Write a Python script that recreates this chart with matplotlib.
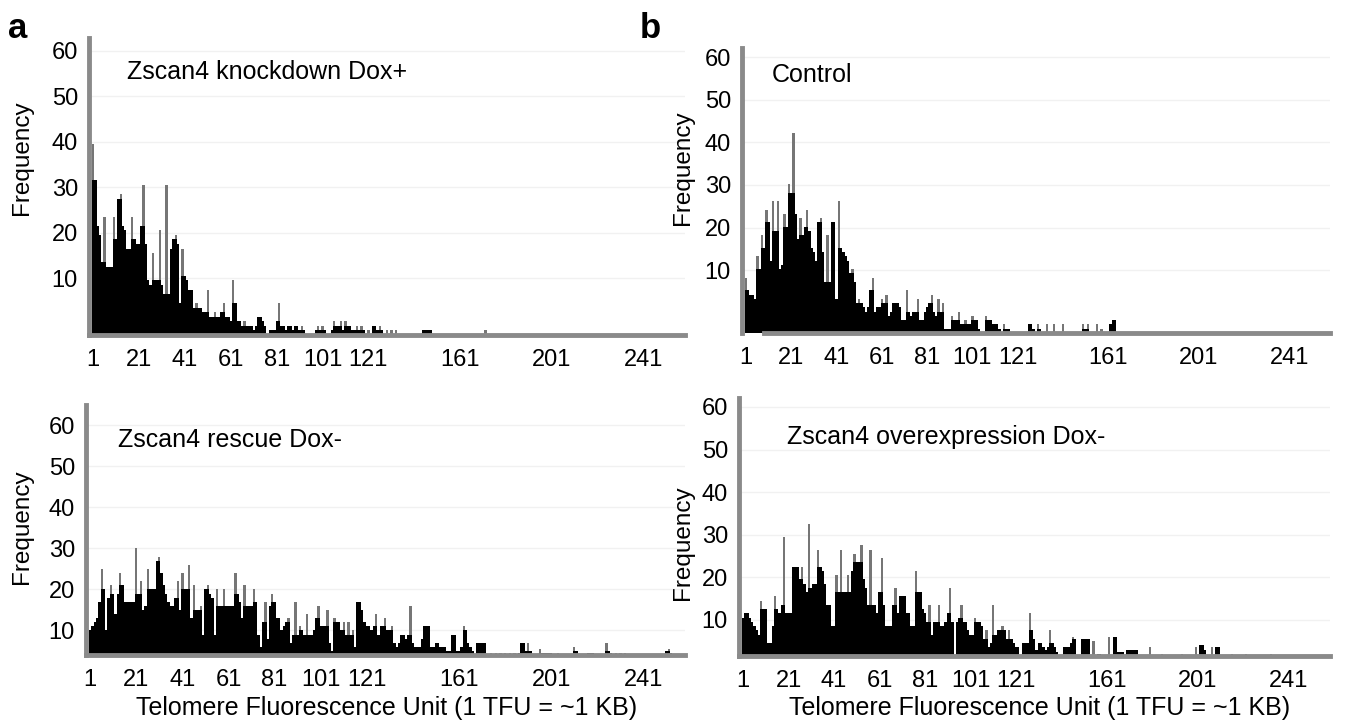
import numpy as np
import matplotlib
matplotlib.use("Agg")
import matplotlib.pyplot as plt

plt.rcParams['font.family'] = ['Liberation Sans', 'DejaVu Sans']

# bins of telomere fluorescence units, heights
N_BINS = 258
xtick_vals = [1, 21, 41, 61, 81, 101, 121, 161, 201, 241]
ytick_labels = [10, 20, 30, 40, 50, 60]

knockdown_main = [
    42, 34, 24, 22, 16, 26, 15, 15, 15, 26, 21, 30, 31, 24, 23, 19, 19, 26, 21, 20,
    20, 24, 33, 20, 12, 11, 18, 12, 12, 23, 11, 9, 33, 9, 19, 21, 22, 20, 7, 19,
    13, 12, 10, 10, 6, 7, 6, 6, 5, 5, 10, 4, 4, 5, 4, 4, 5, 7, 4, 4,
    3, 12, 7, 3, 3, 2, 3, 2, 2, 2, 1, 2, 4, 4, 3, 2, 0, 1, 1, 1,
    3, 7, 2, 2, 1, 2, 2, 1, 2, 2, 1, 2, 1, 0, 0, 0, 0, 1, 2, 1,
    2, 1, 0, 0, 1, 3, 2]
knockdown_tail = {108: 2, 109: 3, 110: 1, 111: 3, 112: 2, 113: 2, 114: 1, 115: 1,
                  116: 2, 117: 1, 118: 2, 119: 1, 121: 1, 123: 2, 124: 2, 125: 1,
                  126: 2, 127: 1, 129: 1, 131: 1, 133: 1, 145: 1, 146: 1, 147: 1,
                  148: 1, 172: 1}

control_main = [
    13, 10, 9, 9, 8, 18, 15, 23, 20, 29, 26, 17, 31, 24, 31, 15, 16, 28, 25, 35,
    33, 47, 28, 22, 27, 23, 25, 29, 24, 20, 19, 17, 26, 27, 19, 12, 23, 12, 26, 26,
    8, 31, 20, 19, 18, 17, 14, 15, 12, 7, 8, 7, 6, 5, 6, 10, 13, 5, 6, 6,
    8, 7, 9, 4, 5, 7, 7, 7, 6, 3, 3, 10, 5, 4, 5, 5, 8, 3, 3, 5,
    6, 7, 9, 5, 4, 8, 5, 7, 1, 1, 1, 4, 3, 3, 5, 2, 2, 3, 2, 2,
    4, 3, 3, 1, 0, 0, 4, 3, 3, 2, 2, 2, 1, 0, 2, 1, 1]
control_tail = {126: 2, 127: 2, 128: 1, 130: 2, 131: 1, 134: 2, 137: 2, 141: 2,
                150: 2, 151: 1, 152: 2, 156: 2, 158: 1, 162: 2, 163: 3, 164: 3}

rescue_main = [
    6, 7, 8, 9, 13, 21, 16, 6, 14, 17, 15, 10, 15, 20, 17, 13, 13, 13, 13, 13,
    26, 15, 18, 11, 12, 21, 16, 16, 16, 23, 24, 20, 17, 15, 13, 12, 12, 14, 18, 11,
    20, 16, 16, 22, 9, 17, 11, 11, 12, 5, 16, 17, 15, 14, 5, 16, 12, 12, 16, 12,
    12, 12, 12, 20, 15, 13, 9, 17, 12, 12, 12, 16, 13, 5, 2, 8, 13, 4, 12, 15,
    13, 9, 9, 6, 7, 8, 9, 3, 5, 13, 5, 7, 6, 5, 10, 5, 5, 6, 9, 12,
    7, 7, 7, 11, 3, 1, 9, 8, 8, 6, 8, 5, 8, 5, 6, 2, 13, 13, 11, 8,
    7, 7, 6, 7, 10, 5, 7, 7, 9, 6, 6, 7, 3, 2, 3, 5, 5, 4, 5, 12,
    3, 2, 2, 2, 4, 7, 7, 7, 2, 2, 3, 3, 2, 2, 2, 1, 1, 5, 5, 1,
    1, 2, 7, 6, 3, 2, 1, 0, 3, 3, 3, 3]
rescue_tail = {175: 0.5, 177: 0.5, 179: 0.5, 181: 0.5, 183: 0.5, 185: 0.5, 187: 0.5,
               188: 3, 189: 3, 190: 1, 191: 3, 192: 1, 196: 1.5, 197: 0.5, 198: 0.5,
               199: 0.5, 200: 0.5, 201: 0.5, 204: 0.5, 211: 2, 212: 1, 217: 0.5,
               218: 0.5, 219: 0.5, 225: 3, 226: 1, 227: 0.5, 229: 0.5, 231: 0.5,
               233: 0.5, 251: 1, 252: 1.5, 253: 0.5}

overexp_main = [
    9, 10, 10, 9, 8, 7, 6, 5, 13, 11, 11, 3, 3, 7, 14, 11, 10, 12, 28, 10,
    10, 10, 21, 21, 21, 18, 21, 17, 15, 31, 16, 17, 17, 25, 21, 20, 17, 12, 12, 7,
    7, 19, 15, 25, 15, 15, 19, 15, 20, 24, 22, 22, 26, 18, 16, 12, 25, 12, 12, 10,
    15, 23, 12, 7, 7, 7, 12, 16, 10, 14, 14, 14, 10, 10, 7, 7, 20, 15, 15, 11,
    10, 8, 12, 5, 8, 8, 12, 7, 7, 8, 10, 16, 8, 0, 8, 9, 12, 8, 8, 6,
    5, 5, 9, 8, 8, 7, 4, 6, 2, 3, 12, 5, 6, 6, 7, 6, 4, 6, 4, 3,
    2, 2, 0, 3, 3, 3, 10, 6, 4, 1.5, 3, 3, 2, 1.5, 2, 6, 3, 2, 1]
overexp_tail = {142: 2, 143: 2, 144: 2, 145: 3, 146: 4.5, 147: 4, 150: 4, 151: 4,
                152: 4, 153: 4, 155: 3.5, 157: 0.5, 158: 0.5, 162: 4.5, 164: 4.5,
                165: 4.5, 166: 1, 167: 1, 168: 1, 170: 1.5, 171: 1.5, 172: 1.5,
                173: 1.5, 174: 1.5, 180: 2, 185: 0.5, 194: 0.5, 200: 2, 202: 2.5,
                203: 2.5, 204: 1.5, 207: 2, 209: 2, 210: 2, 216: 0.5, 222: 0.5,
                233: 0.5}


def build(main, tail):
    v = np.zeros(N_BINS)
    v[:len(main)] = main
    for b, h in tail.items():
        v[b - 1] = h
    return v


W, H = 1345, 725
fig = plt.figure(figsize=(W / 100, H / 100), dpi=100)
AXIS_GRAY = '#8a8a8a'


def px_axes(l, t, r, b):
    return fig.add_axes([l / W, 1 - b / H, (r - l) / W, (b - t) / H])


def draw(ax, vals, ytop, shift, xstart=None):
    x = np.arange(1, N_BINS + 1)
    left = np.r_[0, vals[:-1]]
    right = np.r_[vals[1:], 0]
    # spikes standing above both neighbours show as grey, as in the scan
    core = np.minimum(vals, np.maximum(left, right))
    ax.bar(x, vals, width=1.0, color='#767676', linewidth=0, zorder=2)
    ax.bar(x, core, width=1.0, color='black', linewidth=0, zorder=2)
    ax.set_xlim(-0.8, N_BINS + 1)
    ax.set_ylim(0, ytop)
    ax.set_xticks(xtick_vals)
    ax.set_xticklabels([str(v) for v in xtick_vals])
    ax.set_yticks([v + shift for v in ytick_labels])
    ax.set_yticklabels([str(v) for v in ytick_labels])
    ax.tick_params(length=0, labelsize=17)
    ax.tick_params(axis='x', pad=10)
    ax.tick_params(axis='y', pad=8)
    ax.grid(axis='y', color='#f1f1f1', linewidth=1, zorder=0)
    for s in ['top', 'right']:
        ax.spines[s].set_visible(False)
    for s in ['left', 'bottom']:
        ax.spines[s].set_color(AXIS_GRAY)
        ax.spines[s].set_linewidth(3.5)
        ax.spines[s].set_zorder(3)
    if xstart is not None:
        ax.spines['bottom'].set_bounds(xstart, N_BINS + 1)


ax1 = px_axes(89, 38, 685, 335)
draw(ax1, build(knockdown_main, knockdown_tail), 65.3, 2.5)
ax2 = px_axes(742, 48, 1330, 333)
draw(ax2, build(control_main, control_tail), 67, 4.8, xstart=9)
ax3 = px_axes(86, 405, 685, 655)
draw(ax3, build(rescue_main, rescue_tail), 61, -4)
ax4 = px_axes(739, 398, 1330, 656)
draw(ax4, build(overexp_main, overexp_tail), 60.6, -1.5)


def ftext(x, y, s, **kw):
    fig.text(x / W, 1 - y / H, s, **kw)


ftext(127, 72, 'Zscan4 knockdown Dox+', fontsize=18, va='center')
ftext(772, 75, 'Control', fontsize=18, va='center')
ftext(118, 440, 'Zscan4 rescue Dox-', fontsize=18, va='center')
ftext(787, 437, 'Zscan4 overexpression Dox-', fontsize=18, va='center')

for x, y in [(22, 158), (22, 527), (683, 168), (683, 543)]:
    ftext(x, y, 'Frequency', fontsize=17.5, rotation=90, va='center', ha='center')

for x in [387, 1040]:
    ftext(x, 708, 'Telomere Fluorescence Unit (1 TFU = ~1 KB)', fontsize=18,
          va='center', ha='center')

ftext(8, 38, 'a', fontsize=25, fontweight='bold', va='baseline')
ftext(640, 38, 'b', fontsize=25, fontweight='bold', va='baseline')

fig.savefig('out.png', dpi=100)
